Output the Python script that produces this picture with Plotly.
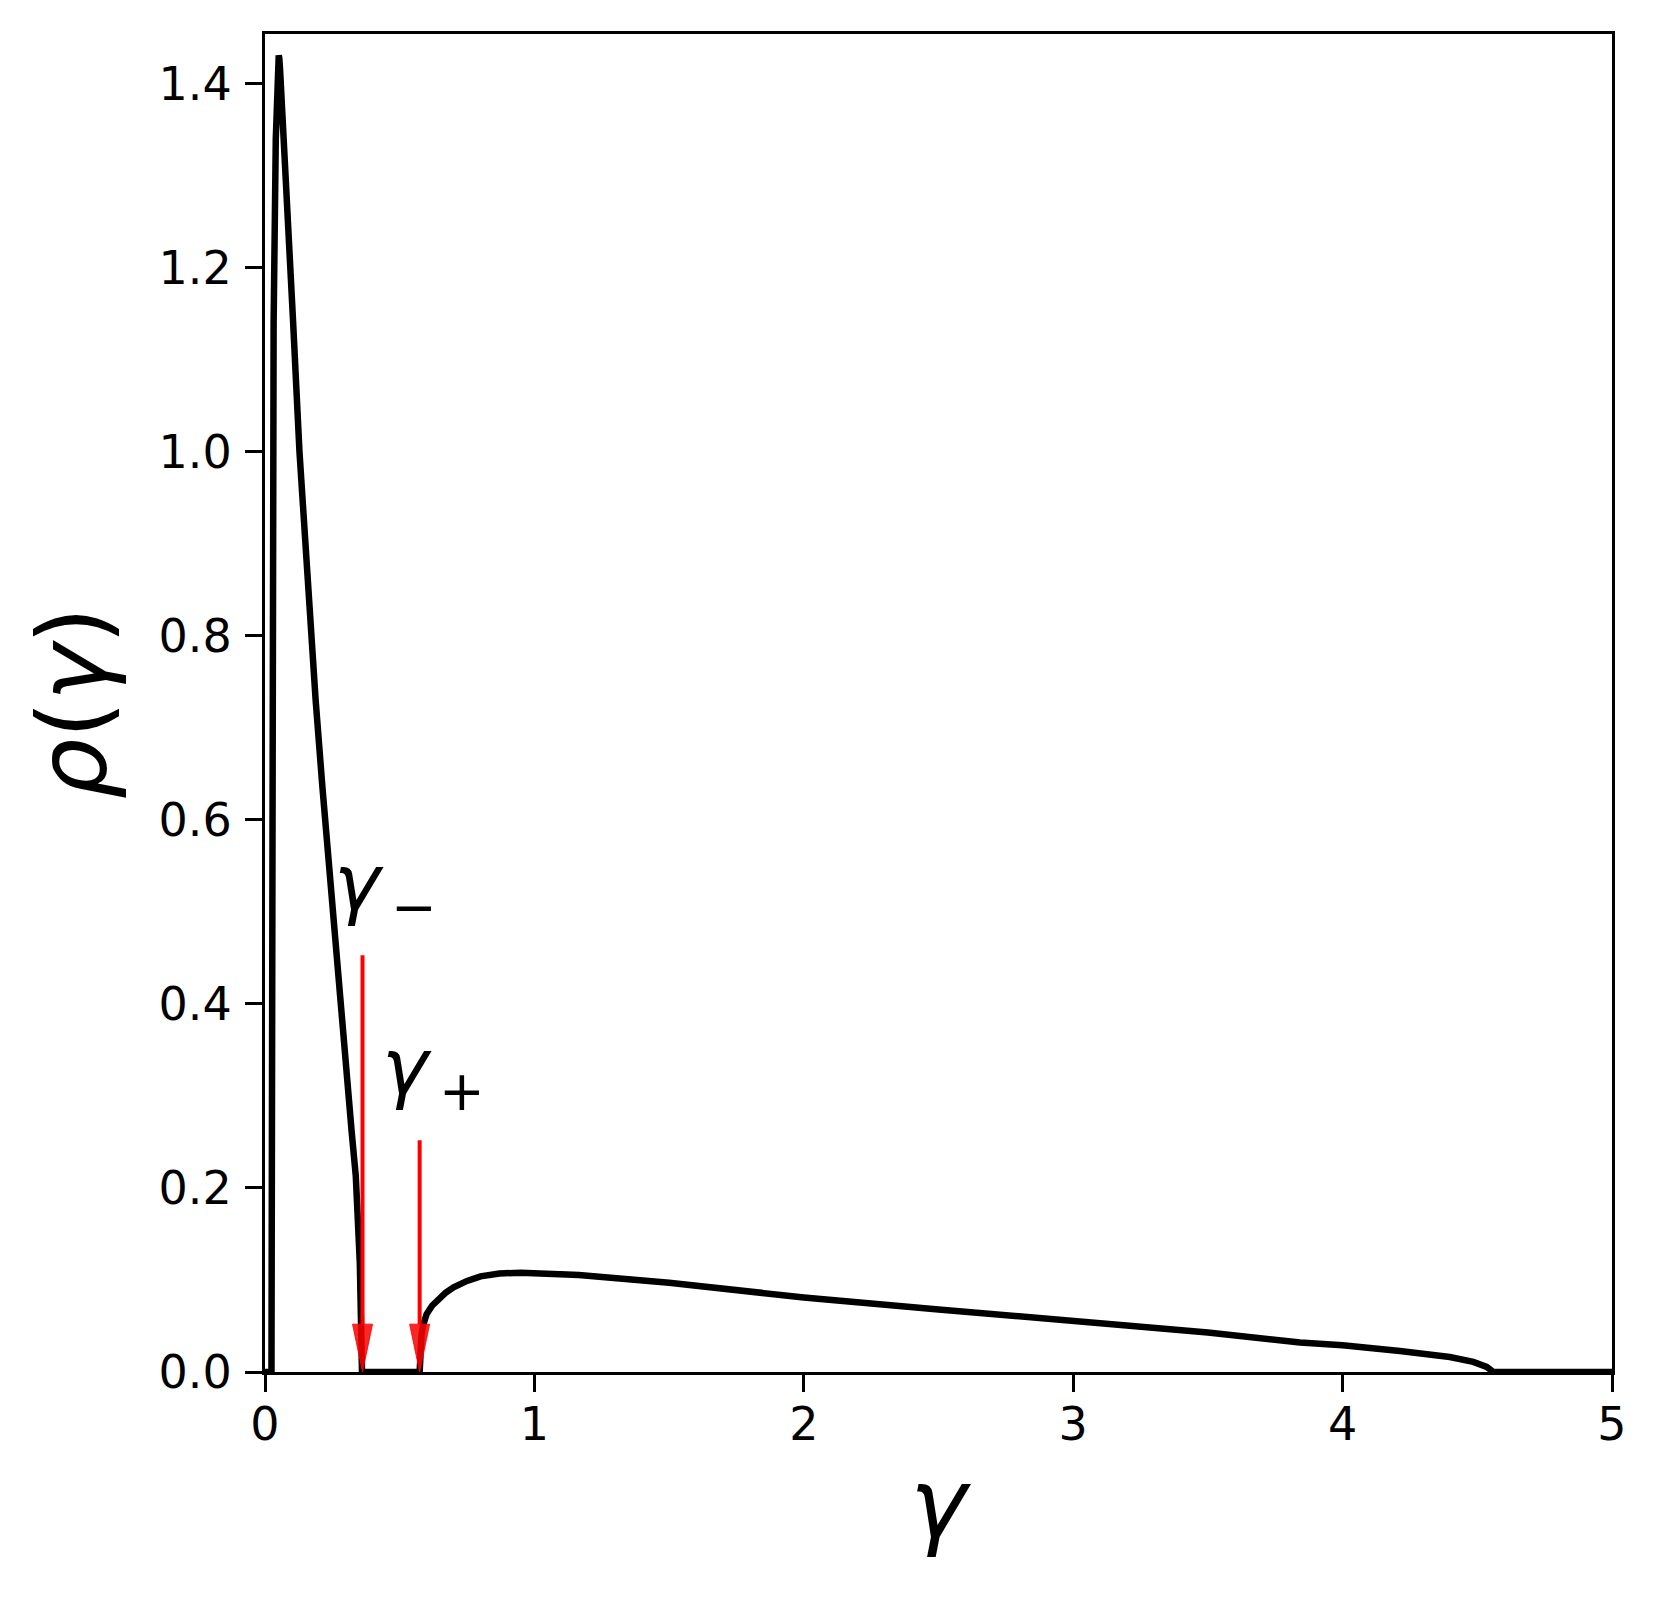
import plotly.graph_objects as go

# density curve rho(gamma)
gamma = [
    0.0, 0.024, 0.028, 0.032, 0.040, 0.044, 0.047, 0.049, 0.051, 0.053,
    0.056, 0.060, 0.064, 0.085, 0.104, 0.128, 0.148, 0.169, 0.188, 0.213,
    0.239, 0.266, 0.294, 0.322, 0.337, 0.347, 0.352, 0.356, 0.360, 0.574,
    0.576, 0.581, 0.587, 0.60, 0.62, 0.648, 0.67, 0.70, 0.75, 0.80,
    0.87, 0.95, 1.05, 1.165, 1.5, 2.0, 2.5, 3.0, 3.5, 3.842,
    4.0, 4.213, 4.398, 4.485, 4.535, 4.56, 5.0,
]
rho = [
    0.0, 0.0, 0.6, 1.14, 1.34, 1.39, 1.415, 1.427, 1.431, 1.428,
    1.415, 1.39, 1.36, 1.25, 1.143, 1.0, 0.9, 0.8, 0.73, 0.636,
    0.542, 0.448, 0.354, 0.26, 0.213, 0.166, 0.118, 0.06, 0.0, 0.0,
    0.025, 0.04, 0.051, 0.063, 0.072, 0.08, 0.086, 0.092, 0.099, 0.104,
    0.107, 0.108, 0.1075, 0.1055, 0.097, 0.081, 0.068, 0.0555, 0.043, 0.032,
    0.029, 0.0228, 0.0163, 0.011, 0.0055, 0.0, 0.0,
]

# band edges marked with red arrows
edge_labels = ["<i>γ</i><sub>\u2009−</sub>", "<i>γ</i><sub>\u2009+</sub>"]
edge_x = [0.362, 0.574]
arrow_top = [0.453, 0.252]
label_x = [0.280, 0.457]
label_y = [0.502, 0.302]

x_ticks = [0, 1, 2, 3, 4, 5]
y_ticks = [0.0, 0.2, 0.4, 0.6, 0.8, 1.0, 1.2, 1.4]

HEAD_W = 0.074
HEAD_L = 0.052
FONT = "DejaVu Sans"

fig = go.Figure()

fig.add_trace(go.Scatter(
    x=gamma, y=rho, mode="lines",
    line=dict(color="black", width=6.5),
    showlegend=False, hoverinfo="skip",
))

for ex, top in zip(edge_x, arrow_top):
    # shaft
    fig.add_trace(go.Scatter(
        x=[ex, ex], y=[top, HEAD_L], mode="lines",
        line=dict(color="red", width=4),
        showlegend=False, hoverinfo="skip",
    ))
    # head
    fig.add_trace(go.Scatter(
        x=[ex - HEAD_W / 2, ex + HEAD_W / 2, ex, ex - HEAD_W / 2],
        y=[HEAD_L, HEAD_L, 0, HEAD_L],
        mode="lines", fill="toself", fillcolor="rgba(255,0,0,0.85)",
        line=dict(color="rgba(255,0,0,0.85)", width=1),
        showlegend=False, hoverinfo="skip",
    ))

for text, lx, ly in zip(edge_labels, label_x, label_y):
    fig.add_annotation(
        x=lx, y=ly, text=text, showarrow=False,
        xanchor="left", yanchor="middle", xshift=-8, yshift=22,
        font=dict(family=FONT, size=78, color="black"),
    )

# the page adds an 8px body margin, so the figure is a bit smaller than the window
fig.update_layout(
    width=1655,
    height=1593,
    margin=dict(l=257, r=51, t=26, b=229),
    plot_bgcolor="white",
    paper_bgcolor="white",
    font=dict(family=FONT, color="black"),
)

fig.update_xaxes(
    range=[0, 5],
    tickvals=x_ticks,
    ticktext=[str(v) for v in x_ticks],
    ticks="outside", ticklen=17, tickwidth=3, tickcolor="black",
    tickfont=dict(family=FONT, size=46),
    ticklabelstandoff=-7,
    showline=True, linewidth=3.2, linecolor="black", mirror=True,
    showgrid=False, zeroline=False,
    title=dict(text="<i>γ</i>", font=dict(family=FONT, size=96), standoff=20),
)

fig.update_yaxes(
    range=[0, 1.4542],
    tickvals=y_ticks,
    ticktext=[f"{v:.1f}" for v in y_ticks],
    ticks="outside", ticklen=17, tickwidth=3, tickcolor="black",
    tickfont=dict(family=FONT, size=46),
    ticklabelstandoff=4,
    showline=True, linewidth=3.2, linecolor="black", mirror=True,
    showgrid=False, zeroline=False,
    title=dict(text="<i>ρ</i>(<i>γ</i>)", font=dict(family=FONT, size=96), standoff=20),
)

fig.write_html("out.html")
